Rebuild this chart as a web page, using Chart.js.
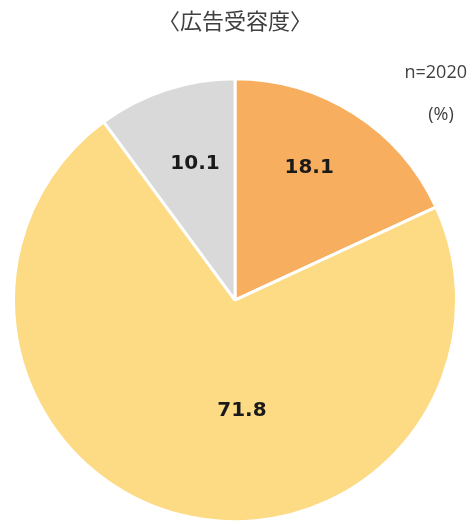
<!DOCTYPE html>
<html>
<head>
<meta charset="utf-8">
<script src="https://cdn.jsdelivr.net/npm/chart.js@4"></script>
<style>
  html, body { margin: 0; padding: 0; background: #ffffff; }
  #wrap { width: 476px; height: 524px; }
</style>
</head>
<body>
<div id="wrap"><canvas id="pieChart"></canvas></div>
<script>
// data
const categories = ['受容', '非受容', 'わからない'];
const shares = [18.1, 71.8, 10.1];
const sliceColors = ['#F8AE5F', '#FCDB84', '#D9D9D9'];
// how far out (share of radius) each value label sits, and a small turn off the mid-angle (deg)
const labelDepth = [0.685, 0.5, 0.64];
const labelTurn = [-3.3, -18, 1.8];

const titleText = '〈広告受容度〉';
const sampleNote = 'n=2020';
const unitNote = '(%)';

// value labels inside slices + the small notes top-right
const pieLabels = {
    id: 'pieLabels',
    afterDatasetsDraw(chart) {
        const ctx = chart.ctx;
        const meta = chart.getDatasetMeta(0);
        ctx.save();
        ctx.font = "bold 20px 'DejaVu Sans', sans-serif";
        ctx.fillStyle = '#1a1a1a';
        ctx.textAlign = 'center';
        ctx.textBaseline = 'middle';
        meta.data.forEach((arc, i) => {
            const p = arc.getProps(['x', 'y', 'startAngle', 'endAngle', 'outerRadius'], true);
            const mid = (p.startAngle + p.endAngle) / 2 + labelTurn[i] * Math.PI / 180;
            const r = p.outerRadius * labelDepth[i];
            ctx.fillText(shares[i].toFixed(1), p.x + Math.cos(mid) * r, p.y + Math.sin(mid) * r);
        });

        ctx.font = "18px 'Open Sans', sans-serif";
        ctx.fillStyle = '#404040';
        ctx.textAlign = 'right';
        ctx.fillText(sampleNote, 467, 73);
        ctx.textAlign = 'center';
        ctx.fillText(unitNote, 441, 115);
        ctx.restore();
    }
};

new Chart(document.getElementById('pieChart'), {
    type: 'pie',
    data: {
        labels: categories,
        datasets: [{
            data: shares,
            backgroundColor: sliceColors,
            borderColor: '#ffffff',
            borderWidth: 3
        }]
    },
    options: {
        responsive: true,
        maintainAspectRatio: false,
        animation: false,
        layout: { padding: { left: 12, right: 18, bottom: 0 } },
        plugins: {
            legend: { display: false },
            tooltip: { enabled: false },
            title: {
                display: true,
                text: titleText,
                color: '#404040',
                font: { family: "'Noto Sans CJK JP', sans-serif", size: 22, weight: 'normal' },
                padding: { top: 7, bottom: 43 }
            }
        }
    },
    plugins: [pieLabels]
});
</script>
</body>
</html>
